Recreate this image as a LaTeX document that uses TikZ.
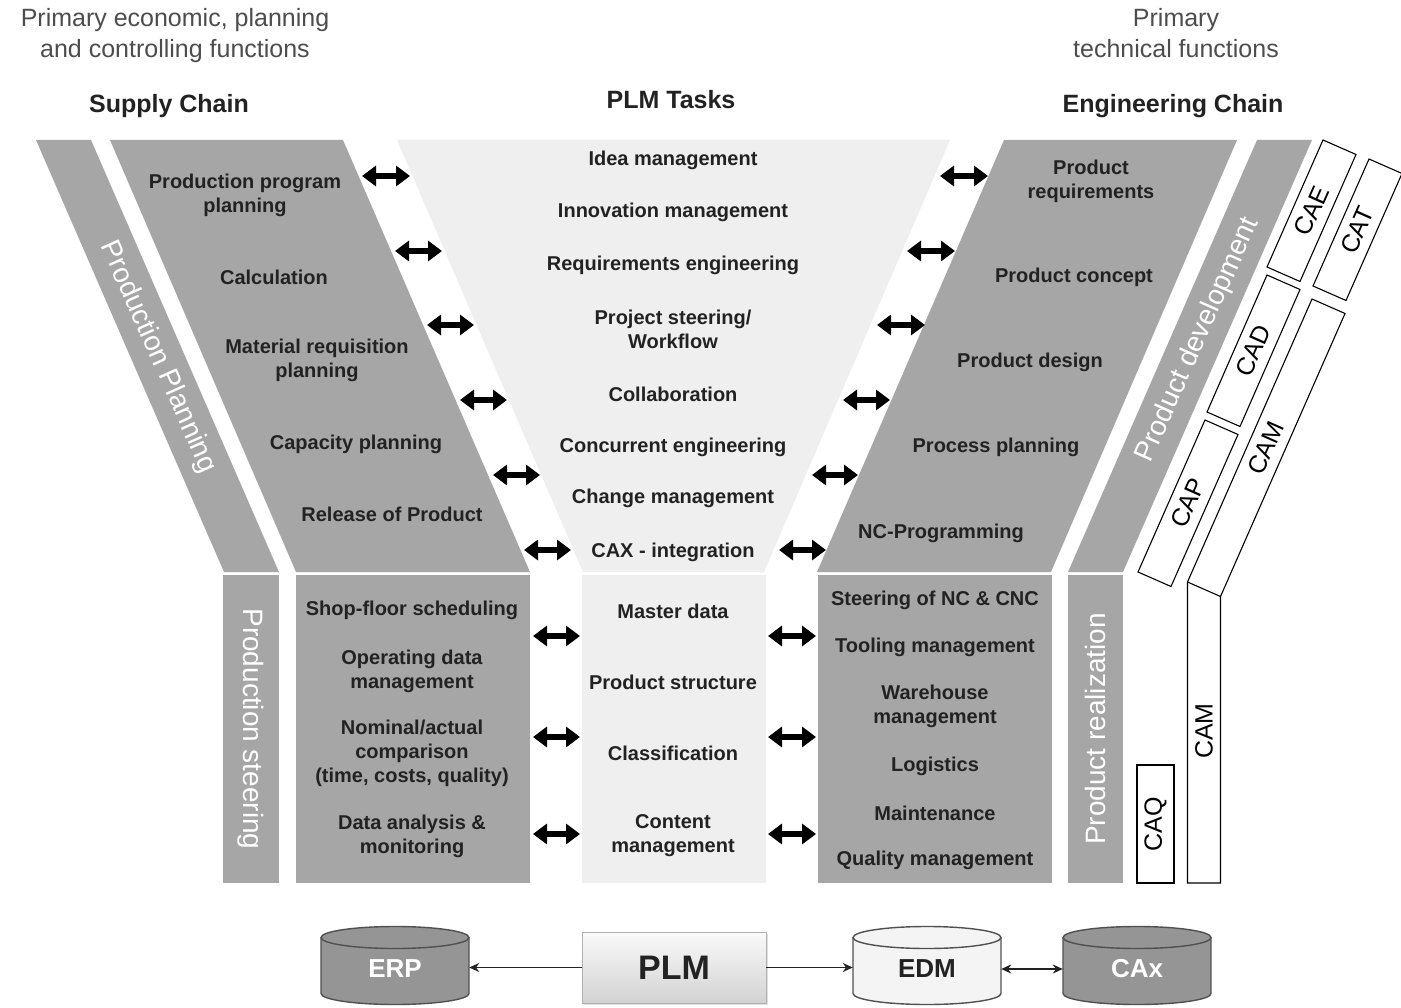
\documentclass[tikz,border=0pt]{standalone}
\usepackage{fontspec}
\setmainfont{Liberation Sans}
\usetikzlibrary{arrows.meta,shadows}

\definecolor{band}{HTML}{A6A6A6}
\definecolor{pale}{HTML}{EFEFEF}
\definecolor{ink}{HTML}{222222}
\definecolor{note}{HTML}{4D4D4D}
\definecolor{drum}{HTML}{959595}
\definecolor{drumlight}{HTML}{F4F4F4}
\definecolor{rim}{HTML}{505050}

\tikzset{
  item/.style={font=\fontsize{20}{24}\selectfont\bfseries, text=ink, align=center, inner sep=0pt},
  header/.style={font=\fontsize{25}{31}\selectfont\bfseries, text=ink, align=center, inner sep=0pt},
  remark/.style={font=\fontsize{25}{31}\selectfont, text=note, align=center, inner sep=0pt},
  bandlabel/.style={font=\fontsize{28}{30}\selectfont, text=white, inner sep=0pt},
  toollabel/.style={font=\fontsize{25}{28}\selectfont, text=black, inner sep=0pt},
  toolbox/.style={draw=black, line width=1.1pt, fill=white, line join=miter},
  link/.style={draw=black, line width=6pt, {Triangle[width=20pt,length=14pt]}-{Triangle[width=20pt,length=14pt]}},
  dblink/.style={draw=ink, line width=1.6pt, >={Stealth[length=10pt,width=9pt]}},
  dbtext/.style={font=\fontsize{26}{28}\selectfont\bfseries, inner sep=0pt, minimum width=148pt, minimum height=56pt},
  plmbox/.style={draw=gray!60, line width=0.9pt, top color=gray!4, bottom color=gray!35,
    drop shadow={opacity=0.25, shadow xshift=2pt, shadow yshift=-2pt},
    minimum width=184pt, minimum height=71pt, inner sep=0pt,
    font=\fontsize{34}{36}\selectfont\bfseries, text=ink},
  pics/store/.style={code={
    \fill[#1] (-74,-28) rectangle (74,28);
    \fill[#1] (0,28) ellipse[x radius=74, y radius=11];
    \draw[rim, line width=1.4pt] (-74,-28) -- (-74,28)
      arc[start angle=180, end angle=0, x radius=74, y radius=11] -- (74,-28);
    \draw[rim, line width=1.4pt, fill=#1] (0,-28) ellipse[x radius=74, y radius=11];
  }},
}

\begin{document}
\begin{tikzpicture}[x=1pt,y=-1pt]
\useasboundingbox (0,0) rectangle (1401,1008);
\fill[white] (0,0) rectangle (1401,1008);

% ---------- headings ----------
\node[remark] (econ) at (175,36) {Primary economic, planning\\and controlling functions};
\node[header] (sc) at (169,106) {Supply Chain};
\node[header] (tasks) at (671,100) {PLM Tasks};
\node[remark] (tech) at (1176,33) {Primary\\technical functions};
\node[header] (ec) at (1173,106) {Engineering Chain};

% ---------- upper funnel ----------
\fill[band] (36,140) -- (91,140) -- (279,572) -- (224,572) -- cycle;
\fill[band] (110,140) -- (343,140) -- (530,572) -- (296,572) -- cycle;
\fill[pale] (397,140) -- (950,140) -- (764,572) -- (583,572) -- cycle;
\fill[band] (1004,140) -- (1237,140) -- (1051,572) -- (817,572) -- cycle;
\fill[band] (1257,140) -- (1312,140) -- (1123,572) -- (1068,572) -- cycle;

% ---------- lower columns ----------
\fill[band] (223,575) rectangle (279,883);
\fill[band] (296,575) rectangle (530,883);
\fill[pale] (582,575) rectangle (766,883);
\fill[band] (818,575) rectangle (1052,883);
\fill[band] (1068,575) rectangle (1123,883);

% ---------- band captions ----------
\node[bandlabel, rotate=-66] (pplan) at (158,357) {Production Planning};
\node[bandlabel, rotate=66] (pdev) at (1198,340) {Product development};
\node[bandlabel, rotate=-90] (psteer) at (251,729) {Production steering};
\node[bandlabel, rotate=90] (preal) at (1095,729) {Product realization};

% ---------- supply chain ----------
\node[item] (s1) at (245,195) {Production program\\planning};
\node[item] (s2) at (274,277) {Calculation};
\node[item] (s3) at (317,360) {Material requisition\\planning};
\node[item] (s4) at (356,444) {Capacity planning};
\node[item] (s5) at (392,514) {Release of Product};

% ---------- PLM tasks ----------
\node[item] (t1) at (673,160) {Idea management};
\node[item] (t2) at (673,212) {Innovation management};
\node[item] (t3) at (673,265) {Requirements engineering};
\node[item] (t4) at (673,329) {Project steering/\\Workflow};
\node[item] (t5) at (673,394) {Collaboration};
\node[item] (t6) at (673,447) {Concurrent engineering};
\node[item] (t7) at (673,498) {Change management};
\node[item] (t8) at (673,552) {CAX - integration};

% ---------- engineering chain ----------
\node[item] (e1) at (1091,181) {Product\\requirements};
\node[item] (e2) at (1074,277) {Product concept};
\node[item] (e3) at (1030,362) {Product design};
\node[item] (e4) at (996,447) {Process planning};
\node[item] (e5) at (941,533) {NC-Programming};

% ---------- production steering ----------
\node[item] (p1) at (412,610) {Shop-floor scheduling};
\node[item] (p2) at (412,671) {Operating data\\management};
\node[item] (p3) at (412,753) {Nominal/actual\\comparison\\(time, costs, quality)};
\node[item] (p4) at (412,836) {Data  analysis \&\\monitoring};

% ---------- data management ----------
\node[item] (d1) at (673,611) {Master data};
\node[item] (d2) at (673,682) {Product structure};
\node[item] (d3) at (673,753) {Classification};
\node[item] (d4) at (673,836) {Content\\management};

% ---------- product realization ----------
\node[item] (r1) at (935,600) {Steering of NC \& CNC};
\node[item] (r2) at (935,647) {Tooling management};
\node[item] (r3) at (935,706) {Warehouse\\management};
\node[item] (r4) at (935,766) {Logistics};
\node[item] (r5) at (935,813) {Maintenance};
\node[item] (r6) at (935,860) {Quality management};

% ---------- exchange arrows ----------
\foreach \n/\a/\b/\y in {1/362/410/176, 2/395/442/251, 3/427/474/325,
                         4/460/507/400, 5/493/540/475, 6/524/571/550,
                         7/533/580/636, 8/533/580/737, 9/533/580/834}{
  \coordinate (lw\n) at (\a,\y);
  \coordinate (le\n) at (\b,\y);
  \draw[link] (lw\n) -- (le\n);
}
\foreach \n/\a/\b/\y in {1/940/988/176, 2/907/955/251, 3/877/925/325,
                         4/843/890/400, 5/812/858/475, 6/779/826/550,
                         7/768/816/636, 8/768/816/737, 9/768/816/834}{
  \coordinate (rw\n) at (\a,\y);
  \coordinate (re\n) at (\b,\y);
  \draw[link] (rw\n) -- (re\n);
}

% ---------- CAx tool boxes ----------
\draw[toolbox] (1323,140) -- ++(33,14.5) -- ++(-56,127) -- ++(-33,-14.5) -- cycle;
\begin{scope}
  \clip (0,0) rectangle (1401,1008);
  \draw[toolbox] (1369,159) -- ++(33,14.5) -- ++(-56,127) -- ++(-33,-14.5) -- cycle;
\end{scope}
\draw[toolbox] (1267,275) -- ++(33,14.5) -- ++(-60,137) -- ++(-33,-14.5) -- cycle;
\draw[toolbox] (1312,299) -- ++(33,14.5) -- ++(-124.5,283) -- (1220.5,883)
  -- (1187.5,883) -- (1187.5,582) -- cycle;
\draw[black, line width=1.1pt] (1187.5,582) -- (1220.5,596.5);
\draw[toolbox] (1205,420) -- ++(33,14.5) -- ++(-67,152) -- ++(-33,-14.5) -- cycle;
\draw[toolbox] (1137,765) rectangle (1174,883);

\node[toollabel, rotate=66] (cae) at (1311.5,211) {CAE};
\node[toollabel, rotate=66] (cat) at (1357.5,230) {CAT};
\node[toollabel, rotate=66] (cad) at (1253.5,350.5) {CAD};
\node[toollabel, rotate=66] (cam) at (1266,448) {CAM};
\node[toollabel, rotate=66] (cap) at (1188,503) {CAP};
\node[toollabel, rotate=90] (camv) at (1204,731) {CAM};
\node[toollabel, rotate=90] (caq) at (1155.5,824) {CAQ};

% ---------- system landscape ----------
\pic at (395,965.5) {store=drum};
\pic at (927,965.5) {store=drumlight};
\pic at (1137,965.5) {store=drum};
\node[dbtext, text=white] (erp) at (395,969) {ERP};
\node[dbtext, text=ink] (edm) at (927,969) {EDM};
\node[dbtext, text=white] (cax) at (1137,969) {CAx};
\node[plmbox] (plm) at (674,967.5) {PLM};

\draw[dblink, ->] (plm.west) -- (plm.west -| erp.east);
\draw[dblink, ->] (plm.east) -- (plm.east -| edm.west);
\draw[dblink, <->] (edm.east) -- (edm.east -| cax.west);
\end{tikzpicture}
\end{document}
